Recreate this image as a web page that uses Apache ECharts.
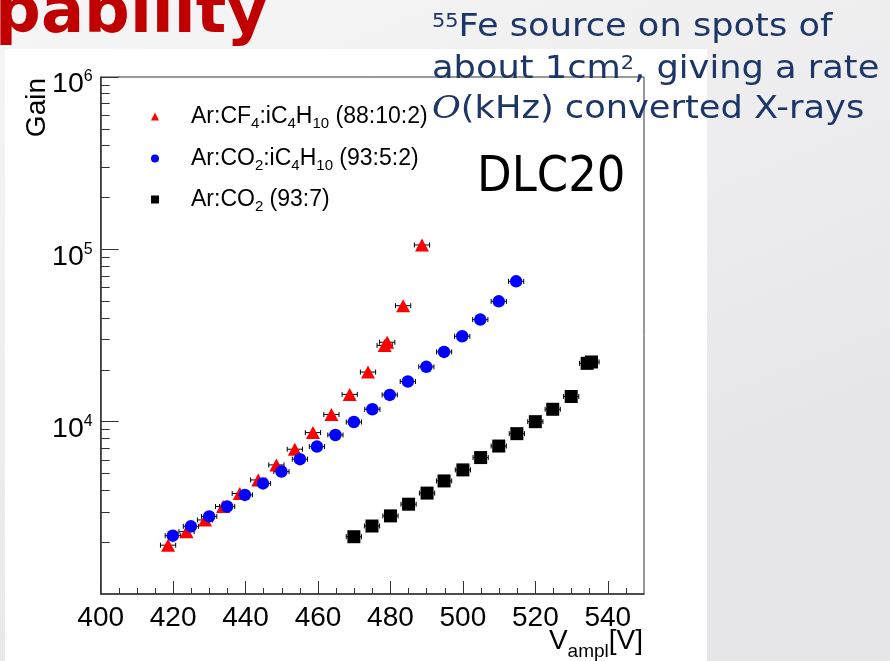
<!DOCTYPE html>
<html>
<head>
<meta charset="utf-8">
<script src="https://cdn.jsdelivr.net/npm/echarts@6/dist/echarts.min.js"></script>
<style>
html,body{margin:0;padding:0;background:#ffffff;}
#c{width:890px;height:661px;}
</style>
</head>
<body>
<div id="c"></div>
<script>
// ---------------- data ----------------
const seriesNames = ['Ar:CF4:iC4H10 (88:10:2)', 'Ar:CO2:iC4H10 (93:5:2)', 'Ar:CO2 (93:7)'];
const legendLabels = [
  '{g| }{n|Ar:CF}{s|4}{n|:iC}{s|4}{n|H}{s|10}{n| (88:10:2)}',
  '{g| }{n|Ar:CO}{s|2}{n|:iC}{s|4}{n|H}{s|10}{n| (93:5:2)}',
  '{g| }{n|Ar:CO}{s|2}{n| (93:7)}'
];

const redV = [418.6, 423.7, 428.8, 433.8, 438.4, 443.5, 448.5, 453.6, 458.6, 463.7, 468.75, 473.8, 478.4, 479.1, 483.5, 488.7];
const redG = [1920, 2300, 2690, 3220, 3830, 4590, 5610, 6920, 8640, 11000, 14400, 19400, 27700, 28900, 47100, 106000];

const blueV = [419.9, 424.9, 429.95, 434.9, 439.8, 444.8, 449.9, 455.0, 459.7, 464.8, 469.9, 475.0, 479.8, 484.8, 489.9, 494.8, 499.8, 504.8, 509.9, 514.7];
const blueG = [2180, 2470, 2820, 3220, 3760, 4380, 5130, 6060, 7170, 8370, 9950, 11800, 14300, 17100, 20800, 25400, 31300, 39100, 49900, 65200];

const blackV = [469.9, 474.9, 480.0, 485.0, 490.1, 494.8, 500.0, 504.9, 509.9, 514.9, 520.0, 524.8, 529.9, 534.3, 535.5];
const blackG = [2150, 2480, 2840, 3320, 3850, 4530, 5250, 6190, 7220, 8520, 10000, 11800, 14000, 21800, 22200];

const xErr = 2.1; // horizontal error (V)

const xMajorTicks = [400, 420, 440, 460, 480, 500, 520, 540];
const xMinorTicks = [405, 410, 415, 425, 430, 435, 445, 450, 455, 465, 470, 475, 485, 490, 495, 505, 510, 515, 525, 530, 535, 545];
const yMajorTicks = [10000, 100000, 1000000];
const yMinorTicks = [2000, 3000, 4000, 5000, 6000, 7000, 8000, 9000,
                     20000, 30000, 40000, 50000, 60000, 70000, 80000, 90000,
                     200000, 300000, 400000, 500000, 600000, 700000, 800000, 900000];
// -------------------------------------------------------------

const FONT = 'Liberation Sans';
const AX = '#333333';

function pairs(xs, ys) { return xs.map((x, i) => [x, ys[i]]); }

function errRender(params, api) {
  const x = api.value(0), y = api.value(1);
  const p1 = api.coord([x - xErr, y]);
  const p2 = api.coord([x + xErr, y]);
  const st = { stroke: '#000', lineWidth: 1 };
  return {
    type: 'group',
    children: [
      { type: 'line', shape: { x1: p1[0], y1: p1[1], x2: p2[0], y2: p2[1] }, style: st },
      { type: 'line', shape: { x1: p1[0], y1: p1[1] - 2.5, x2: p1[0], y2: p1[1] + 2.5 }, style: st },
      { type: 'line', shape: { x1: p2[0], y1: p2[1] - 2.5, x2: p2[0], y2: p2[1] + 2.5 }, style: st }
    ]
  };
}

const legendRich = {
  g: { width: 27, fontSize: 23, lineHeight: 30 },
  n: { fontSize: 23, fontFamily: FONT, color: '#000', lineHeight: 30 },
  s: { fontSize: 15, fontFamily: FONT, color: '#000', lineHeight: 15, verticalAlign: 'bottom' }
};
const legendTops = [100, 142, 183];
function makeLegend(i) {
  return {
    data: [seriesNames[i]],
    orient: 'vertical',
    left: 146, top: legendTops[i],
    itemWidth: 8, itemHeight: 8,
    selectedMode: false,
    formatter: function (name) { return legendLabels[seriesNames.indexOf(name)]; },
    textStyle: { fontSize: 23, fontFamily: FONT, color: '#000', rich: legendRich }
  };
}

const chart = echarts.init(document.getElementById('c'), null, { renderer: 'canvas' });

const option = {
  animation: false,
  backgroundColor: 'transparent',
  grid: { left: 100.7, top: 77, right: 246, bottom: 67, show: true, borderColor: AX, borderWidth: 1, backgroundColor: 'transparent' },
  xAxis: [
    {
      type: 'value', min: 400, max: 550, position: 'bottom',
      axisLine: { show: true, onZero: false, lineStyle: { color: AX, width: 1.5 } },
      axisTick: { show: true, inside: true, length: 13, customValues: xMajorTicks, lineStyle: { color: AX, width: 1 } },
      axisLabel: { show: true, customValues: xMajorTicks, fontSize: 28, fontFamily: FONT, color: '#000', margin: 10 },
      splitLine: { show: false }
    },
    {
      type: 'value', min: 400, max: 550, position: 'bottom',
      axisLine: { show: false, onZero: false },
      axisTick: { show: true, inside: true, length: 6, customValues: xMinorTicks, lineStyle: { color: AX, width: 1 } },
      axisLabel: { show: false },
      splitLine: { show: false }
    }
  ],
  yAxis: [
    {
      type: 'log', logBase: 10, min: 1000, max: 1000000, position: 'left',
      axisLine: { show: true, onZero: false, lineStyle: { color: AX, width: 1.5 } },
      axisTick: { show: true, inside: true, length: 18, customValues: yMajorTicks, lineStyle: { color: AX, width: 1 } },
      axisLabel: {
        show: true, customValues: yMajorTicks, margin: 8, padding: [15, 0, 0, 0],
        formatter: function (v) { return '{b|10}{p|' + Math.round(Math.log10(v)) + '}'; },
        rich: {
          b: { fontSize: 28.5, fontFamily: FONT, color: '#000', lineHeight: 31 },
          p: { fontSize: 16, fontFamily: FONT, color: '#000', lineHeight: 16, verticalAlign: 'top' }
        }
      },
      splitLine: { show: false }
    },
    {
      type: 'log', logBase: 10, min: 1000, max: 1000000, position: 'left',
      axisLine: { show: false, onZero: false },
      axisTick: { show: true, inside: true, length: 9, customValues: yMinorTicks, lineStyle: { color: AX, width: 1 } },
      axisLabel: { show: false },
      splitLine: { show: false }
    }
  ],
  legend: [makeLegend(0), makeLegend(1), makeLegend(2)],
  series: [
    { type: 'custom', name: 'errR', renderItem: errRender, data: pairs(redV, redG), z: 1, silent: true },
    { type: 'custom', name: 'errB', renderItem: errRender, data: pairs(blueV, blueG), z: 1, silent: true },
    { type: 'custom', name: 'errK', renderItem: errRender, data: pairs(blackV, blackG), z: 1, silent: true },
    { type: 'scatter', name: seriesNames[0], symbol: 'triangle', symbolSize: [14, 13],
      itemStyle: { color: '#ff0000', opacity: 1 }, data: pairs(redV, redG), z: 3 },
    { type: 'scatter', name: seriesNames[1], symbol: 'circle', symbolSize: 12.5,
      itemStyle: { color: '#0000ff', opacity: 1 }, data: pairs(blueV, blueG), z: 3 },
    { type: 'scatter', name: seriesNames[2], symbol: 'rect', symbolSize: 13,
      itemStyle: { color: '#000000', opacity: 1 }, data: pairs(blackV, blackG), z: 3 }
  ],
  graphic: {
    elements: [
      { type: 'rect', z: -100, silent: true, shape: { x: 0, y: 0, width: 890, height: 661 },
        style: { fill: { type: 'linear', x: 0, y: 0, x2: 0.3, y2: 1, colorStops: [{ offset: 0, color: '#f6f6f6' }, { offset: 1, color: '#e6e6e9' }] } } },
      { type: 'rect', z: -99, silent: true, shape: { x: 5, y: 49, width: 702, height: 612 }, style: { fill: '#ffffff' } },
      { type: 'text', z: 50, x: 268, y: 15.5, silent: true,
        style: { text: 'pability', fontSize: 64, fontWeight: 'bold', fontFamily: 'DejaVu Sans', fill: '#c00000', textAlign: 'right', textVerticalAlign: 'middle' } },
      { type: 'text', z: 50, x: 432, y: 28, scaleX: 1.1, silent: true,
        style: { text: '{sup|55}{t|Fe source on spots of}', textAlign: 'left', textVerticalAlign: 'middle',
          rich: { t: { fontSize: 32, fontFamily: 'DejaVu Sans', fill: '#1c3667', lineHeight: 30 },
                  sup: { fontSize: 19, fontFamily: 'DejaVu Sans', fill: '#1c3667', lineHeight: 19, verticalAlign: 'top' } } } },
      { type: 'text', z: 50, x: 432, y: 70, scaleX: 1.1, silent: true,
        style: { text: '{t|about 1cm}{sup|2}{t|, giving a rate}', textAlign: 'left', textVerticalAlign: 'middle',
          rich: { t: { fontSize: 32, fontFamily: 'DejaVu Sans', fill: '#1c3667', lineHeight: 30 },
                  sup: { fontSize: 19, fontFamily: 'DejaVu Sans', fill: '#1c3667', lineHeight: 19, verticalAlign: 'top' } } } },
      { type: 'text', z: 50, x: 432, y: 110, scaleX: 1.1, silent: true,
        style: { text: '{o|O}{t|(kHz) converted X-rays}', textAlign: 'left', textVerticalAlign: 'middle',
          rich: { t: { fontSize: 32, fontFamily: 'DejaVu Sans', fill: '#1c3667', lineHeight: 30 },
                  o: { fontSize: 32, fontFamily: 'DejaVu Serif', fontStyle: 'italic', fill: '#1c3667', lineHeight: 30 } } } },
      { type: 'text', z: 50, x: 477, y: 178, scaleY: 1.1, silent: true,
        style: { text: 'DLC20', fontSize: 45, fontFamily: 'DejaVu Sans', fill: '#000', textAlign: 'left', textVerticalAlign: 'middle' } },
      { type: 'text', z: 50, x: 37, y: 78, rotation: Math.PI / 2, silent: true,
        style: { text: 'Gain', fontSize: 28, fontFamily: FONT, fill: '#000', textAlign: 'right', textVerticalAlign: 'middle' } },
      { type: 'text', z: 50, x: 643, y: 641, silent: true,
        style: { text: '{v|V}{s|ampl}{v|[V]}', textAlign: 'right', textVerticalAlign: 'middle',
          rich: { v: { fontSize: 28, fontFamily: FONT, fill: '#000', lineHeight: 40 },
                  s: { fontSize: 19, fontFamily: FONT, fill: '#000', lineHeight: 19, verticalAlign: 'bottom' } } } }
    ]
  }
};

chart.setOption(option);
</script>
</body>
</html>
